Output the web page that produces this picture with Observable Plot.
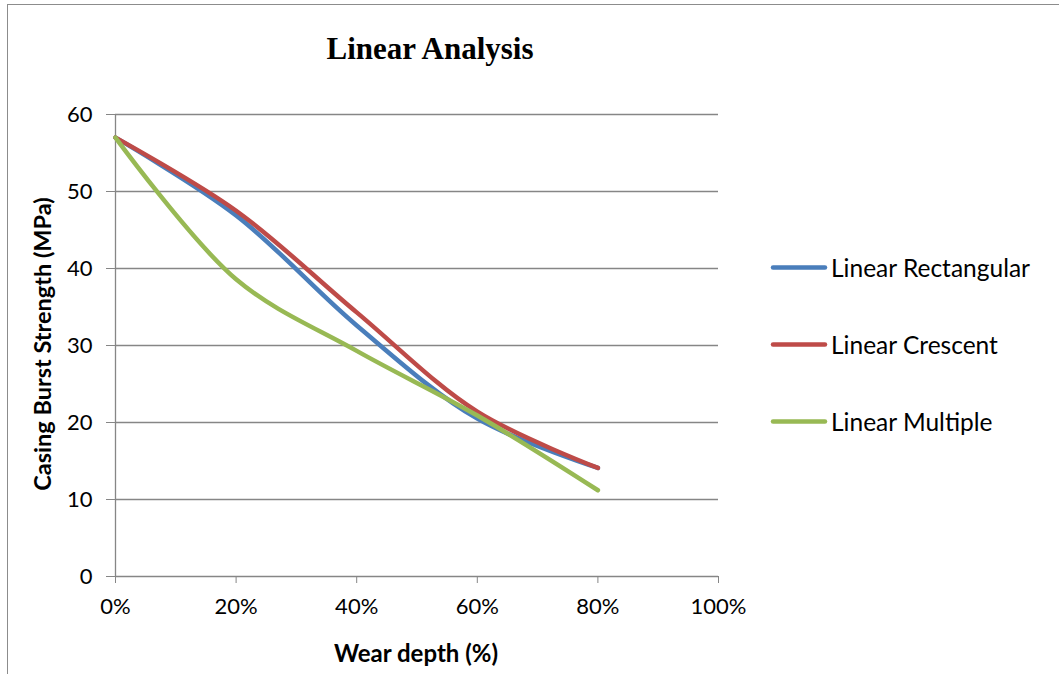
<!DOCTYPE html>
<html>
<head>
<meta charset="utf-8">
<script src="https://cdn.jsdelivr.net/npm/d3@7"></script>
<script src="https://cdn.jsdelivr.net/npm/@observablehq/plot@0.6"></script>
<style>
  html, body { margin: 0; padding: 0; background: #fff; }
  #wrap { position: relative; width: 1059px; height: 674px; overflow: hidden; font-family: Lato, "Open Sans", sans-serif; color: #000; }
  #frame { position: absolute; left: 7px; top: 4px; width: 1100px; height: 700px; border-left: 1px solid #8c8c8c; border-top: 1px solid #8c8c8c; }
  #chart { position: absolute; left: 0; top: 0; }
  .title { position: absolute; left: 430px; top: 31px; transform: translateX(-50%); font-family: "Liberation Serif", "Times New Roman", serif; font-weight: bold; font-size: 31px; white-space: nowrap; }
  .xtitle { position: absolute; left: 416px; top: 652px; transform: translate(-50%, -50%); font-weight: bold; font-size: 24px; white-space: nowrap; }
  .ytitle { position: absolute; left: 42px; top: 344px; transform: translate(-50%, -50%) rotate(-90deg); font-weight: bold; font-size: 23.5px; white-space: nowrap; }
  .legend { position: absolute; left: 770px; top: 0; }
  .item { position: absolute; left: 0; display: flex; align-items: center; white-space: nowrap; font-size: 24.5px; transform: translateY(-50%); }
  .item svg { margin-right: 3px; }
</style>
</head>
<body>
<div id="wrap">
  <div id="frame"></div>
  <div id="chart"></div>
  <div class="title">Linear Analysis</div>
  <div class="ytitle">Casing Burst Strength (MPa)</div>
  <div class="xtitle">Wear depth (%)</div>
  <div class="legend" id="legend"></div>
</div>
<script>
// Data
const wearDepth = [0, 0.2, 0.4, 0.6, 0.8];
const linearRectangular = [57, 46.9, 32.6, 20.5, 14.1];
const linearCrescent = [57, 47.5, 34.3, 21.4, 14.1];
const linearMultiple = [57, 38.6, 29.3, 20.9, 11.2];
const seriesNames = ["Linear Rectangular", "Linear Crescent", "Linear Multiple"];
const seriesColors = ["#4a7ebb", "#be4b48", "#98b954"];
const xTicks = [0, 0.2, 0.4, 0.6, 0.8, 1.0];
const yTicks = [0, 10, 20, 30, 40, 50, 60];

const seriesValues = [linearRectangular, linearCrescent, linearMultiple];
const rows = [];
seriesNames.forEach((name, i) => {
  wearDepth.forEach((x, j) => rows.push({series: name, x, y: seriesValues[i][j]}));
});

const grid = "#868686";
const chart = Plot.plot({
  width: 1059,
  height: 674,
  marginLeft: 115,
  marginRight: 341,
  marginTop: 114,
  marginBottom: 98,
  style: {fontFamily: "Lato, 'Open Sans', sans-serif", fontSize: "22px", color: "#000", background: "transparent"},
  x: {domain: [0, 1], ticks: xTicks, tickFormat: d3.format(".0%"), label: null},
  y: {domain: [0, 60], ticks: yTicks, label: null},
  color: {domain: seriesNames, range: seriesColors},
  marks: [
    Plot.ruleY(yTicks, {stroke: grid, strokeWidth: 1.3}),
    Plot.ruleX([0], {stroke: grid, strokeWidth: 1.3}),
    Plot.axisY({ticks: yTicks, tickSize: 9, tickPadding: 14, stroke: grid, label: null, fontSize: 22}),
    Plot.axisX({ticks: xTicks, tickSize: 7, tickPadding: 15, stroke: grid, tickFormat: d3.format(".0%"), label: null, fontSize: 22}),
    Plot.line(rows, {x: "x", y: "y", z: "series", stroke: "series", strokeWidth: 4.5, curve: "catmull-rom", strokeLinecap: "round", strokeLinejoin: "round"})
  ]
});
document.getElementById("chart").appendChild(chart);

// Legend
const legendY = [267, 344, 421];
const legend = document.getElementById("legend");
seriesNames.forEach((name, i) => {
  const item = document.createElement("div");
  item.className = "item";
  item.style.top = legendY[i] + "px";
  item.innerHTML = `<svg width="58" height="8"><line x1="3" y1="4" x2="55" y2="4" stroke="${seriesColors[i]}" stroke-width="4.5" stroke-linecap="round"/></svg><span>${name}</span>`;
  legend.appendChild(item);
});
</script>
</body>
</html>
